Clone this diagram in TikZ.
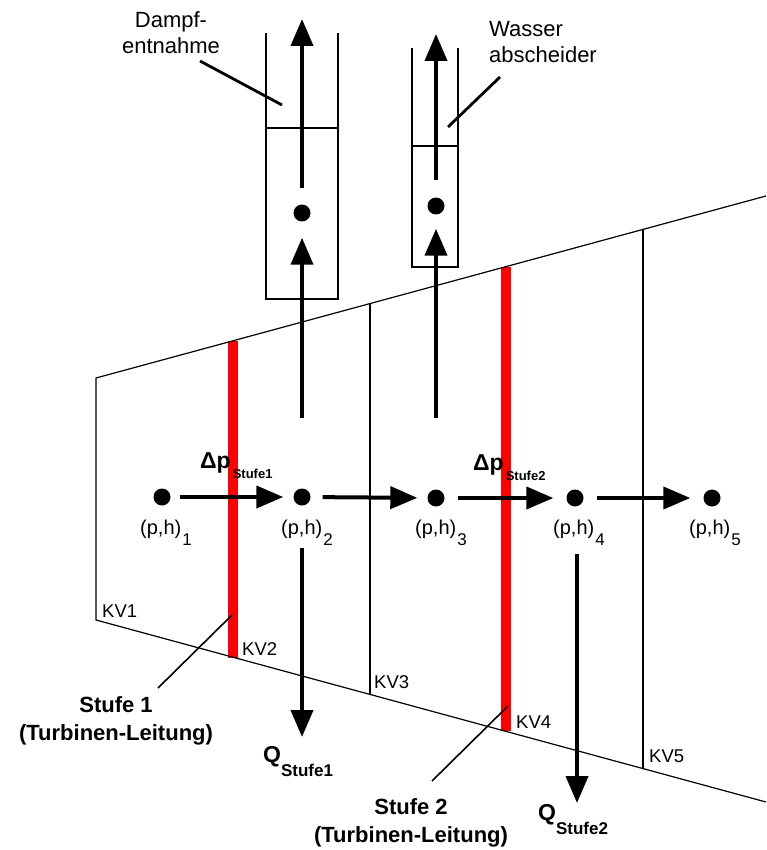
\documentclass[tikz,border=0pt]{standalone}
\usepackage{fontspec}
\setmainfont{Liberation Sans}
\usetikzlibrary{arrows.meta}
\begin{document}
\begin{tikzpicture}[x=1pt,y=-1pt,
  thinline/.style={line width=1.2pt},
  lead/.style={line width=2.8pt},
  leadthin/.style={line width=1.6pt},
  stage/.style={draw=red,line width=10pt},
  arr/.style={line width=4pt,-{Triangle[length=27pt,width=22pt]}},
  dot/.style={circle,fill=black,inner sep=0pt,minimum size=17pt},
  lbl/.style={font=\fontsize{22}{26}\selectfont,inner sep=0pt},
  kv/.style={font=\fontsize{18.5}{20}\selectfont,inner sep=0pt,anchor=base west},
  ph/.style={font=\fontsize{20}{22}\selectfont,inner sep=0pt,anchor=base west},
  blbl/.style={font=\bfseries\fontsize{22}{28}\selectfont,inner sep=0pt,align=center},
  qlbl/.style={font=\bfseries\fontsize{23}{26}\selectfont,inner sep=0pt,anchor=base west},
  dlbl/.style={font=\bfseries\fontsize{23}{26}\selectfont,inner sep=0pt,anchor=base west}
]
\useasboundingbox (0,0) rectangle (766,850);

% trapezoid corners
\coordinate (TL) at (96,378);
\coordinate (TR) at (766,196);
\coordinate (BL) at (96,620);
\coordinate (BR) at (766,802);

% red stage lines
\draw[stage] (232.5,341) -- (232.5,657.5);
\draw[stage] (506,266.6) -- (506,731.4);

% casing
\draw[thinline] (TR) -- (TL) -- (BL) -- (BR);
\draw[thinline] (370,303.5) -- (370,694.5);
\draw[thinline] (643,229.4) -- (643,768.6);

% extraction boxes
\draw[thinline] (266,33) -- (266,299) -- (338,299) -- (338,33);
\draw[thinline] (266,128) -- (338,128);
\draw[thinline] (412,48) -- (412,267) -- (458,267) -- (458,48);
\draw[thinline] (412,146) -- (458,146);

% dots
\node[dot] (d1) at (162,497) {};
\node[dot] (d2) at (302,497) {};
\node[dot] (d3) at (436,498) {};
\node[dot] (d4) at (575,498) {};
\node[dot] (d5) at (712,498) {};
\node[dot] (b1) at (302,213) {};
\node[dot] (b2) at (436,206) {};

% horizontal arrows
\draw[arr,shorten <=9pt,shorten >=10pt] (d1) -- (d2);
\draw[arr,shorten <=12pt,shorten >=10pt] (d2) -- (d3);
\draw[arr,shorten <=13pt,shorten >=13pt] (d3) -- (d4);
\draw[arr,shorten <=13pt,shorten >=13pt] (d4) -- (d5);

% vertical arrows
\coordinate (u1) at (302,418);
\coordinate (t1) at (302,19);
\coordinate (u2) at (436,418);
\coordinate (t2) at (436,34);
\draw[arr,shorten >=16pt] (u1) -- (b1);
\draw[arr,shorten <=16pt] (b1) -- (t1);
\draw[arr,shorten >=14pt] (u2) -- (b2);
\draw[arr,shorten <=17pt] (b2) -- (t2);

\coordinate (q1s) at (302,548);
\coordinate (q1e) at (302,737);
\coordinate (q2s) at (577,554);
\coordinate (q2e) at (577,803);
\draw[arr] (q1s) -- (q1e);
\draw[arr] (q2s) -- (q2e);

% state labels
\node[ph] (p1) at (140,534) {(p,h)\kern1pt\raisebox{-11pt}{\fontsize{17}{17}\selectfont 1}};
\node[ph] (p2) at (281,534) {(p,h)\kern1pt\raisebox{-11pt}{\fontsize{17}{17}\selectfont 2}};
\node[ph] (p3) at (415,534) {(p,h)\kern1pt\raisebox{-11pt}{\fontsize{17}{17}\selectfont 3}};
\node[ph] (p4) at (553,534) {(p,h)\kern1pt\raisebox{-11pt}{\fontsize{17}{17}\selectfont 4}};
\node[ph] (p5) at (689,534) {(p,h)\kern1pt\raisebox{-11pt}{\fontsize{17}{17}\selectfont 5}};

% pressure drop labels
\node[dlbl] (dp1) at (200,468) {Δp\kern2pt\raisebox{-10pt}{\fontsize{13}{13}\selectfont Stufe1}};
\node[dlbl] (dp2) at (473,470) {Δp\kern2pt\raisebox{-10pt}{\fontsize{13}{13}\selectfont Stufe2}};

% heat labels
\node[qlbl] (Q1) at (263,762) {Q\raisebox{-14pt}{\fontsize{17}{17}\selectfont Stufe1}};
\node[qlbl] (Q2) at (538,820) {Q\raisebox{-14pt}{\fontsize{17}{17}\selectfont Stufe2}};

% KV labels
\node[kv] (kv1) at (102,617) {KV1};
\node[kv] (kv2) at (242,655) {KV2};
\node[kv] (kv3) at (374,688) {KV3};
\node[kv] (kv4) at (516,728) {KV4};
\node[kv] (kv5) at (649,762) {KV5};

% top labels
\node[lbl,align=center] (damp) at (171,33) {Dampf-\\entnahme};
\node[lbl,align=left,anchor=west] (wass) at (489,42) {Wasser\\abscheider};
\coordinate (dampe) at (282,105);
\coordinate (wasse) at (448,127);
\draw[lead] (200,61) -- (dampe);
\draw[lead] (500,77) -- (wasse);

% stage labels
\node[blbl] (s1) at (116,721) {Stufe 1\\(Turbinen-Leitung)};
\node[blbl] (s2) at (411,823) {Stufe 2\\(Turbinen-Leitung)};
\coordinate (s1e) at (232,615);
\coordinate (s2e) at (508,706);
\draw[leadthin] (158,688) -- (s1e);
\draw[leadthin] (432,781) -- (s2e);
\end{tikzpicture}
\end{document}
